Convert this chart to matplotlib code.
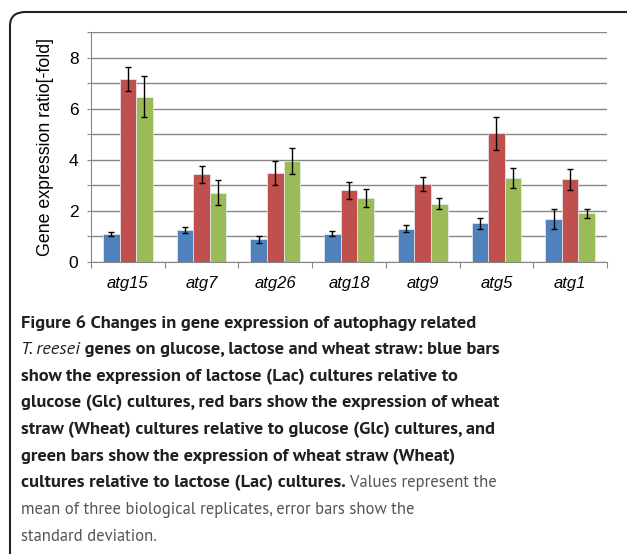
import numpy as np
import matplotlib.pyplot as plt
from matplotlib.patches import FancyBboxPatch

# values
genes = ['atg15', 'atg7', 'atg26', 'atg18', 'atg9', 'atg5', 'atg1']
lac_glc = [1.09, 1.25, 0.89, 1.11, 1.31, 1.51, 1.68]
lac_glc_err = [0.07, 0.12, 0.14, 0.09, 0.12, 0.21, 0.40]
wheat_glc = [7.16, 3.43, 3.49, 2.81, 3.05, 5.03, 3.23]
wheat_glc_err = [0.45, 0.33, 0.46, 0.34, 0.28, 0.66, 0.40]
wheat_lac = [6.47, 2.72, 3.95, 2.50, 2.29, 3.28, 1.90]
wheat_lac_err = [0.81, 0.48, 0.51, 0.34, 0.22, 0.38, 0.17]

colors = ['#4F81BD', '#C0504D', '#9BBB59']

fig = plt.figure(figsize=(6.27, 5.54), dpi=100)
ax = fig.add_axes([0.1451, 0.527, 0.823, 0.4153])

x = np.arange(len(genes))
w = 0.225
series = [(lac_glc, lac_glc_err), (wheat_glc, wheat_glc_err), (wheat_lac, wheat_lac_err)]
for i, (vals, errs) in enumerate(series):
    ax.bar(x + (i - 1) * w, vals, w, color=colors[i], edgecolor='#e8eef5', linewidth=0.5, zorder=3)
    ax.errorbar(x + (i - 1) * w, vals, yerr=errs, fmt='none', ecolor='black',
                elinewidth=1.0, capsize=2.5, capthick=1.0, zorder=4)

ax.set_xlim(-0.5, len(genes) - 0.5)
ax.set_ylim(0, 9)
ax.set_yticks(np.arange(0, 10, 1))
ax.set_yticklabels([str(v) if v % 2 == 0 else '' for v in range(10)],
                   fontsize=12.5, family='Liberation Sans')
ax.yaxis.grid(True, color='#868686', linewidth=1.0, zorder=0)
ax.tick_params(axis='y', length=3, color='#868686', pad=6)

# category ticks sit between the groups
ax.set_xticks(np.arange(-0.5, len(genes), 1))
ax.set_xticklabels([])
ax.set_xticks(x, minor=True)
ax.set_xticklabels(genes, minor=True, fontsize=12, style='italic', family='Liberation Sans')
ax.tick_params(axis='x', which='major', length=4, color='#868686')
ax.tick_params(axis='x', which='minor', length=0, pad=10)

for s in ['top', 'right']:
    ax.spines[s].set_visible(False)
ax.spines['left'].set_color('#868686')
ax.spines['bottom'].set_color('#868686')
ax.set_ylabel('Gene expression ratio[-fold]', fontsize=12.8, family='Liberation Sans', labelpad=11)

# rounded frame around the whole figure
W, H = 627, 554
frame = FancyBboxPatch((10 / W, -20 / H), 640 / W, (H - 12 + 20) / H,
                       boxstyle='round,pad=0,rounding_size=0.025', transform=fig.transFigure,
                       facecolor='none', edgecolor='#222222', linewidth=1.5, clip_on=False)
fig.patches.append(frame)

# caption, built from styled pieces per line
dark = '#231f20'
gray = '#555555'
fam = ['PT Sans', 'Open Sans']
lines = [
    [('Figure 6 Changes in gene expression of autophagy related', 'bold', 'normal', dark)],
    [('T. reesei', 'normal', 'italic', dark),
     (' genes on glucose, lactose and wheat straw: blue bars', 'bold', 'normal', dark)],
    [('show the expression of lactose (Lac) cultures relative to', 'bold', 'normal', dark)],
    [('glucose (Glc) cultures, red bars show the expression of wheat', 'bold', 'normal', dark)],
    [('straw (Wheat) cultures relative to glucose (Glc) cultures, and', 'bold', 'normal', dark)],
    [('green bars show the expression of wheat straw (Wheat)', 'bold', 'normal', dark)],
    [('cultures relative to lactose (Lac) cultures.', 'bold', 'normal', dark),
     (' Values represent the', 'normal', 'normal', gray)],
    [('mean of three biological replicates, error bars show the', 'normal', 'normal', gray)],
    [('standard deviation.', 'normal', 'normal', gray)],
]

renderer = fig.canvas.get_renderer()
# size the fonts to line widths measured in the reference (456 px bold, 396 px regular)
probe = fig.text(0, 0, lines[0][0][0], fontsize=10, fontweight='bold', family=fam)
fs_bold = 10 * 456 / probe.get_window_extent(renderer=renderer).width
probe.remove()
probe = fig.text(0, 0, lines[7][0][0], fontsize=10, family=fam)
fs_norm = 10 * 396 / probe.get_window_extent(renderer=renderer).width
probe.remove()

y0 = 323
step = 26.7
for k, pieces in enumerate(lines):
    xpos = 21 / W
    ypos = 1 - (y0 + k * step) / H
    for txt, weight, style, col in pieces:
        fs = fs_norm if col == gray else fs_bold
        t = fig.text(xpos, ypos, txt, fontsize=fs, fontweight=weight, style=style,
                     color=col, family=fam, va='center', ha='left')
        bb = t.get_window_extent(renderer=renderer)
        xpos += bb.width / W

fig.savefig('out.png', dpi=100)
